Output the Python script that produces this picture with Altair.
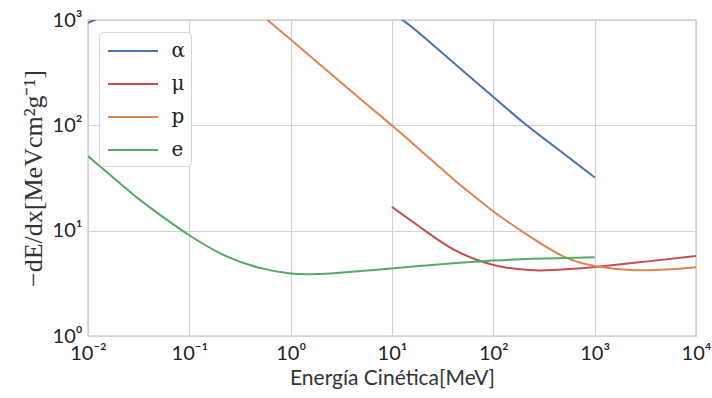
import altair as alt
import pandas as pd

# ---- data (kinetic energy in MeV, stopping power in MeV cm^2/g)
particles = ["α", "μ", "p", "e"]
colors = ["#4C72B0", "#C44E52", "#DD8452", "#55A868"]

alpha_E = [0.01, 0.013, 0.03, 0.1, 0.5, 1, 3, 7, 10, 13, 20, 31.6, 50, 100, 211, 316, 500, 1000]
alpha_S = [940, 1050, 1500, 2000, 2300, 2200, 1700, 1300, 1150, 1000, 708, 484, 330, 186, 100, 75, 53.5, 32]

mu_E = [10, 20, 36.9, 67.6, 100, 150, 282, 500, 1000, 3000, 10000]
mu_S = [16.8, 10.4, 6.8, 5.25, 4.7, 4.35, 4.14, 4.28, 4.5, 5.05, 5.74]

p_E = [0.3, 0.59, 1, 2, 5, 10, 20, 41, 72.8, 100, 200, 479, 1000, 2570, 5000, 10000]
p_S = [1740, 1000, 653, 370, 174, 100, 56, 30, 19.5, 15, 9.6, 5.5, 4.5, 4.14, 4.25, 4.5]

e_E = [0.01, 0.02, 0.0324, 0.05, 0.1, 0.234, 0.5, 1, 1.5, 3, 10, 30, 100, 300, 1000]
e_S = [51, 29, 19.5, 14.4, 8.9, 5.5, 4.35, 3.87, 3.83, 3.95, 4.4, 4.8, 5.25, 5.45, 5.6]

x_ticks = [0.01, 0.1, 1, 10, 100, 1000, 10000]
y_ticks = [1, 10, 100, 1000]

rows = []
for name, xs, ys in [("α", alpha_E, alpha_S), ("μ", mu_E, mu_S), ("p", p_E, p_S), ("e", e_E, e_S)]:
    for i, (x, y) in enumerate(zip(xs, ys)):
        rows.append({"particle": name, "E": x, "S": y, "order": i})
df = pd.DataFrame(rows)

sup = "['⁻²','⁻¹','⁰','¹','²','³','⁴']"
label_expr = "'10' + " + sup + "[round(log(datum.value)/LN10) + 2]"

grid = "#d3d3d3"

chart = alt.Chart(df).mark_line(strokeWidth=2, clip=True, interpolate="basis").encode(
    x=alt.X("E:Q",
            scale=alt.Scale(type="log", domain=[0.01, 10000], nice=False),
            axis=alt.Axis(values=x_ticks, labelExpr=label_expr, title="Energía Cinética[MeV]",
                          labelPadding=7, titlePadding=4, labelFlush=False)),
    y=alt.Y("S:Q",
            scale=alt.Scale(type="log", domain=[1, 1000], nice=False),
            axis=alt.Axis(values=y_ticks, labelExpr=label_expr, title="−dE/dx[MeVcm²g⁻¹]",
                          labelPadding=6, titlePadding=6, labelFlush=False,
                          titleFont="Liberation Serif", titleFontSize=26)),
    color=alt.Color("particle:N",
                    scale=alt.Scale(domain=particles, range=colors),
                    legend=alt.Legend(title=None, orient="none", legendX=11, legendY=12,
                                      symbolType="M-2,0L2,0", symbolSize=625, symbolStrokeWidth=2,
                                      symbolOffset=15, labelOffset=25,
                                      labelFont="DejaVu Serif",
                                      labelFontSize=20, labelColor="#222222",
                                      rowPadding=9, padding=5.5,
                                      fillColor="white", strokeColor="#d8d8d8", cornerRadius=4)),
    order="order:Q",
).properties(
    width=608, height=316, autosize="none",
    padding={"left": 88, "top": 20, "right": 16, "bottom": 62},
).configure_view(
    stroke=grid, strokeWidth=1.5
).configure_axis(
    grid=True, gridColor=grid, gridWidth=1.2, domain=False, ticks=False,
    labelFont="Lato", labelFontSize=20, labelColor="#222222",
    titleFont="Lato", titleFontSize=21, titleFontWeight="normal", titleColor="#333333",
)

chart.save("out.html", embed_options={"renderer": "svg", "actions": False})
